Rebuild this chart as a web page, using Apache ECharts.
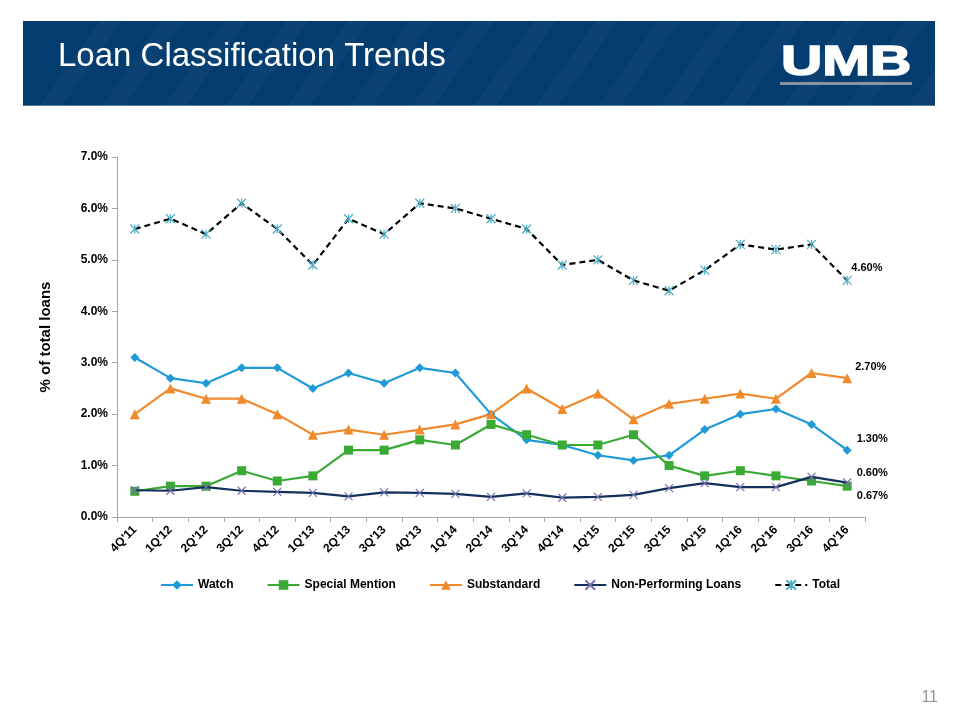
<!DOCTYPE html>
<html><head><meta charset="utf-8">
<script src="https://cdn.jsdelivr.net/npm/echarts@6/dist/echarts.min.js"></script>
<style>html,body{margin:0;padding:0;background:#fff}#c{width:960px;height:720px}</style>
</head><body><div id="c"></div>
<script>
const categories = ["4Q'11","1Q'12","2Q'12","3Q'12","4Q'12","1Q'13","2Q'13","3Q'13","4Q'13","1Q'14","2Q'14","3Q'14","4Q'14","1Q'15","2Q'15","3Q'15","4Q'15","1Q'16","2Q'16","3Q'16","4Q'16"];
const watch = [3.1,2.7,2.6,2.9,2.9,2.5,2.8,2.6,2.9,2.8,2.0,1.5,1.4,1.2,1.1,1.2,1.7,2.0,2.1,1.8,1.3];
const specialMention = [0.5,0.6,0.6,0.9,0.7,0.8,1.3,1.3,1.5,1.4,1.8,1.6,1.4,1.4,1.6,1.0,0.8,0.9,0.8,0.7,0.6];
const substandard = [2.0,2.5,2.3,2.3,2.0,1.6,1.7,1.6,1.7,1.8,2.0,2.5,2.1,2.4,1.9,2.2,2.3,2.4,2.3,2.8,2.7];
const nonPerforming = [0.52,0.51,0.58,0.51,0.49,0.47,0.40,0.48,0.47,0.45,0.39,0.46,0.375,0.39,0.43,0.56,0.66,0.58,0.58,0.78,0.67];
const total = [5.6,5.8,5.5,6.1,5.6,4.9,5.8,5.5,6.1,6.0,5.8,5.6,4.9,5.0,4.6,4.4,4.8,5.3,5.2,5.3,4.6];
const yTicks = [0,1,2,3,4,5,6,7];

const chart = echarts.init(document.getElementById('c'), null, {renderer:'canvas'});
const FONT = 'Liberation Sans, Arial, sans-serif';
const xPath = 'path://M0,0L10,10M10,0L0,10';
const starPath = 'path://M0,0L10,10M10,0L0,10M5,0L5,10';

function lastLabel(arr, offset, text) {
  return arr.map((v, i) => i === arr.length - 1 ? {
    value: v,
    label: {show: true, position: 'right', offset: offset, color: '#000',
      fontFamily: FONT, fontWeight: 'bold', fontSize: 11,
      formatter: () => text !== undefined ? text : v.toFixed(2) + '%'}
  } : v);
}

const stripes = [];
for (let k = 0; k < 16; k++) {
  const x0 = 40 + k * 62;
  stripes.push({type:'polygon', silent:true, shape:{points:[[x0,106],[x0+22,106],[x0+22+60,21],[x0+60,21]]},
    style:{fill:'rgba(255,255,255,0.035)'}, z:1});
}

chart.setOption({
  backgroundColor: '#fff',
  animation: false,
  textStyle: {fontFamily: FONT},
  graphic: [
    {type:'rect', shape:{x:23,y:21,width:912,height:85}, style:{fill:'#033c6e'}, z:0},
    ...stripes,
    {type:'rect', shape:{x:23,y:105,width:912,height:1}, style:{fill:'#5a7a9a'}, z:2},
    {type:'text', x:58, y:57, z:3, style:{text:'Loan Classification Trends', fill:'#fff', font:'33px ' + FONT, verticalAlign:'middle'}},
    {type:'text', x:781, y:63, scaleX:1.33, z:3, style:{text:'UMB', fill:'#fff', stroke:'#fff', lineWidth:1.5, font:'bold 43px ' + FONT, verticalAlign:'middle'}},
    {type:'rect', shape:{x:780,y:82,width:132,height:3}, style:{fill:'#8a949e'}, z:3},
    {type:'text', right:22, top:690, style:{text:'11', fill:'#999999', font:'16px ' + FONT}}
  ],
  grid: {left:117, right:95, top:157, bottom:203, containLabel:false},
  legend: {
    left: 155, top: 574, itemWidth: 32, itemHeight: 12, itemGap: 33,
    textStyle: {fontFamily: FONT, fontWeight:'bold', fontSize:12, color:'#000'},
    data: ['Watch','Special Mention','Substandard','Non-Performing Loans','Total']
  },
  xAxis: {
    type:'category', data: categories, boundaryGap: true,
    axisLine: {lineStyle:{color:'#a6a6a6', width:1}},
    axisTick: {show:true, length:5, alignWithLabel:false, lineStyle:{color:'#a6a6a6'}},
    axisLabel: {rotate:45, interval:0, color:'#000', fontWeight:'bold', fontSize:12, fontFamily:FONT, margin:11},
    splitLine: {show:false}
  },
  yAxis: {
    type:'value', min: yTicks[0], max: yTicks[yTicks.length-1], interval: 1,
    name: '% of total loans', nameLocation:'middle', nameRotate:90, nameGap:64,
    nameTextStyle: {fontFamily:FONT, fontWeight:'bold', fontSize:15, color:'#000'},
    axisLine: {show:true, lineStyle:{color:'#a6a6a6', width:1}},
    axisTick: {show:true, length:5, lineStyle:{color:'#a6a6a6'}},
    axisLabel: {color:'#000', fontWeight:'bold', fontSize:12, fontFamily:FONT, margin:9,
      formatter: v => v.toFixed(1) + '%'},
    splitLine: {show:false}
  },
  series: [
    {name:'Total', type:'line', data: lastLabel(total, [-6,-12]), z:2,
      symbol: starPath, symbolSize: 9,
      itemStyle:{color:'#4bacc6', borderColor:'#4bacc6', borderWidth:1.2},
      lineStyle:{color:'#000', width:2.2, type:[6,4]}},
    {name:'Watch', type:'line', data: lastLabel(watch, [0,-11]), z:3,
      symbol:'diamond', symbolSize: 9,
      itemStyle:{color:'#1f9ad6'}, lineStyle:{color:'#1f9ad6', width:2.2}},
    {name:'Special Mention', type:'line', data: lastLabel(specialMention, [0,-13]), z:3,
      symbol:'rect', symbolSize: 9,
      itemStyle:{color:'#3aaa35'}, lineStyle:{color:'#3aaa35', width:2.2}},
    {name:'Substandard', type:'line', data: lastLabel(substandard, [-2,-11]), z:3,
      symbol:'triangle', symbolSize: 10,
      itemStyle:{color:'#f08a2c'}, lineStyle:{color:'#f08a2c', width:2.2}},
    {name:'Non-Performing Loans', type:'line', data: lastLabel(nonPerforming, [0,13]), z:4,
      symbol: xPath, symbolSize: 8,
      itemStyle:{color:'#7a6fb0', borderColor:'#7a6fb0', borderWidth:1.2},
      lineStyle:{color:'#13315c', width:2.2}}
  ]
});
</script>
</body></html>
